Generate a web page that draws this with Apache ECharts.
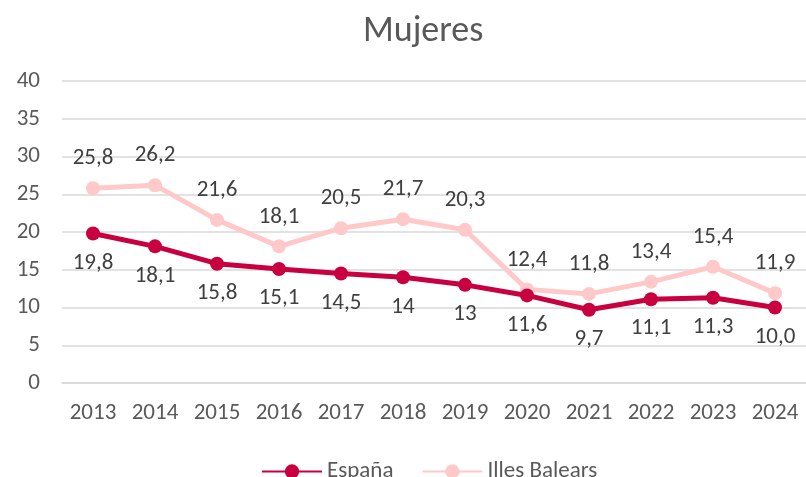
<!DOCTYPE html>
<html><head><meta charset="utf-8">
<script src="https://cdn.jsdelivr.net/npm/echarts@6/dist/echarts.min.js"></script>
<style>html,body{margin:0;padding:0;background:#fff}#c{width:806px;height:477px}</style>
</head><body><div id="c"></div>
<script>
var years = ['2013','2014','2015','2016','2017','2018','2019','2020','2021','2022','2023','2024'];
var espana = [19.8,18.1,15.8,15.1,14.5,14,13,11.6,9.7,11.1,11.3,10.0];
var espanaLabels = ['19,8','18,1','15,8','15,1','14,5','14','13','11,6','9,7','11,1','11,3','10,0'];
var baleares = [25.8,26.2,21.6,18.1,20.5,21.7,20.3,12.4,11.8,13.4,15.4,11.9];
var balearesLabels = ['25,8','26,2','21,6','18,1','20,5','21,7','20,3','12,4','11,8','13,4','15,4','11,9'];

var font = 'Calibri, Carlito, Lato, "Open Sans", sans-serif';
var chart = echarts.init(document.getElementById('c'));
function mk(name, vals, labels, color, pos) {
  return {
    name: name, type: 'line', data: vals,
    symbol: 'circle', symbolSize: 14,
    lineStyle: {width: 5, color: color},
    itemStyle: {color: color},
    label: {show: true, position: pos, distance: 11, color: '#404040', fontSize: 23, fontFamily: font,
      formatter: function(p){ return labels[p.dataIndex]; }},
    z: name === 'España' ? 3 : 2
  };
}
chart.setOption({
  animation: false,
  title: {text: 'Mujeres', left: 358, top: 9, textStyle: {color: '#595959', fontSize: 36, fontWeight: 'normal', fontFamily: font}},
  legend: {top: 455, left: 256, itemWidth: 60, itemHeight: 18, itemGap: 28, textStyle: {color: '#595959', fontSize: 23, fontFamily: font},
    data: ['España', 'Illes Balears']},
  grid: {left: 62, top: 81, width: 747, height: 302},
  xAxis: {type: 'category', data: years, boundaryGap: true,
    axisLine: {lineStyle: {color: '#D9D9D9', width: 1.5}}, axisTick: {show: false},
    axisLabel: {color: '#595959', fontSize: 23, fontFamily: font, margin: 19}},
  yAxis: {type: 'value', min: 0, max: 40, interval: 5,
    axisLine: {show: false}, axisTick: {show: false},
    splitLine: {lineStyle: {color: '#D9D9D9', width: 1.5}},
    axisLabel: {color: '#595959', fontSize: 23, fontFamily: font, margin: 22}},
  series: [
    mk('España', espana, espanaLabels, '#C9003F', 'bottom'),
    mk('Illes Balears', baleares, balearesLabels, '#FFC9C9', 'top')
  ]
});
</script></body></html>
